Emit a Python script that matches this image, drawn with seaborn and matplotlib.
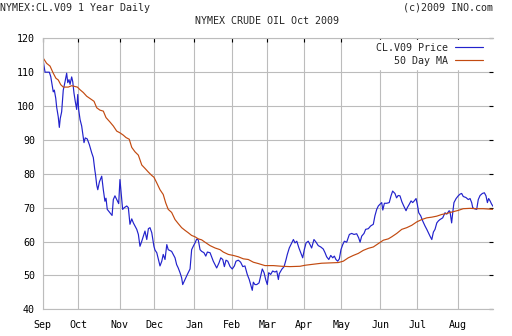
import matplotlib
matplotlib.use("Agg")
import matplotlib.pyplot as plt
import seaborn as sns
import pandas as pd

# ---- data (x = trading-day index since Sep 2008) ----
price_day = [0.0, 1.3, 3.7, 4.5, 5.4, 5.9, 6.5, 7.3, 7.8, 8.7, 9.3, 9.8, 10.6, 11.5, 12.5, 13.4, 14.0, 14.7,
             15.3, 16.2, 16.8, 17.5, 18.2, 19.0, 19.6, 20.1, 20.9, 21.8, 23.1, 23.8, 24.9, 26.1, 27.4, 28.3,
             29.1, 29.6, 30.2, 30.8, 31.7, 33.0, 33.9, 34.8, 35.4, 36.1, 37.6, 38.8, 39.5, 40.4, 41.4, 42.5,
             43.2, 43.8, 44.7, 45.6, 47.0, 47.9, 48.8, 49.8, 50.7, 52.6, 53.5, 54.4, 55.4, 56.3, 57.2, 58.2,
             59.1, 60.0, 61.0, 62.2, 62.8, 63.8, 64.7, 65.6, 66.6, 67.4, 68.4, 69.4, 70.2, 72.1, 74.0, 74.9,
             75.8, 76.8, 77.7, 78.3, 79.6, 80.9, 82.4, 83.3, 84.2, 85.2, 86.1, 87.0, 88.0, 88.9, 90.2, 91.2,
             92.1, 93.6, 95.4, 97.3, 98.6, 99.6, 100.7, 101.6, 102.5, 103.5, 104.8, 106.0, 107.2, 108.1, 109.4,
             110.7, 111.9, 113.1, 114.4, 115.5, 116.3, 117.2, 117.8, 118.7, 119.7, 121.0, 121.9, 122.8, 123.8,
             124.7, 125.6, 126.4, 127.5, 128.6, 129.9, 130.9, 131.8, 132.3, 133.7, 135.0, 136.1, 136.8, 137.9,
             139.3, 140.2, 141.1, 142.1, 143.3, 144.3, 145.4, 146.3, 147.3, 148.5, 149.5, 150.4, 151.7, 152.9,
             154.1, 155.5, 156.9, 157.9, 158.8, 160.0, 161.1, 162.2, 163.1, 164.0, 165.0, 165.9, 166.8, 167.8,
             168.7, 170.0, 171.5, 172.8, 174.1, 175.6, 176.7, 177.5, 178.4, 179.7, 180.6, 182.1, 183.4, 184.9,
             185.8, 186.8, 187.7, 188.6, 189.6, 190.2, 191.1, 192.4, 193.8, 194.8, 195.7, 197.0, 197.9, 198.8,
             199.8, 200.9, 202.1, 203.2, 203.9, 205.0, 206.0, 206.9, 207.8, 208.8, 209.5, 210.3, 211.4, 212.5,
             213.8, 214.8, 215.7, 216.6, 217.6, 218.5, 219.4, 220.4, 221.3, 222.2, 223.7, 225.0, 226.0, 227.3,
             227.8, 228.7, 229.3, 230.0, 231.2, 232.4, 233.4, 234.3, 235.2, 236.7, 238.0, 239.0, 239.9, 240.5,
             241.4, 242.7, 243.6, 244.6, 245.9, 247.0, 247.9, 248.7, 249.4, 250.2, 251.1, 252.0]
price_val = [114.3, 110.0, 110.0, 108.7, 105.7, 104.2, 104.7, 102.3, 99.7, 96.8, 93.7, 96.3, 98.3, 104.7, 107.2,
             109.7, 106.9, 107.8, 106.4, 108.6, 107.2, 103.8, 101.4, 99.0, 103.4, 99.0, 96.0, 94.1, 89.2, 90.6,
             90.3, 88.6, 86.2, 84.8, 81.3, 79.5, 76.7, 75.3, 77.6, 79.3, 75.3, 71.9, 72.8, 69.5, 68.5, 67.7,
             72.4, 73.5, 72.4, 71.2, 78.3, 74.9, 69.5, 70.0, 70.5, 70.0, 65.1, 66.7, 65.5, 63.6, 62.1, 58.6,
             60.1, 61.6, 63.1, 60.6, 63.8, 64.1, 62.6, 58.6, 57.5, 56.7, 54.7, 52.8, 54.2, 56.2, 54.7, 59.1,
             57.6, 57.1, 55.2, 53.2, 52.2, 50.8, 49.3, 47.3, 48.8, 50.3, 51.9, 57.6, 58.6, 59.6, 60.7, 60.5,
             57.6, 57.1, 56.7, 55.7, 56.9, 56.7, 54.2, 52.2, 53.7, 55.2, 54.7, 52.6, 54.5, 54.2, 52.6, 51.9,
             52.8, 54.2, 54.5, 53.9, 52.6, 52.8, 50.3, 48.8, 47.3, 45.6, 48.0, 47.3, 47.3, 47.8, 49.8, 51.9,
             50.8, 48.8, 47.3, 50.8, 50.3, 51.3, 51.0, 51.3, 48.8, 50.5, 51.8, 52.6, 54.7, 56.2, 58.1, 59.6,
             60.6, 59.6, 60.1, 58.1, 56.7, 55.2, 57.6, 59.6, 60.1, 59.1, 58.1, 60.6, 59.8, 58.8, 58.4, 57.8,
             56.7, 55.5, 54.7, 55.9, 55.2, 55.7, 54.7, 54.2, 54.9, 57.6, 59.1, 60.1, 59.8, 62.1, 62.4, 62.1,
             62.3, 61.1, 59.8, 61.6, 62.4, 63.6, 63.8, 64.6, 65.1, 67.6, 69.5, 70.5, 71.0, 71.5, 69.3, 71.3,
             71.3, 71.5, 73.5, 74.9, 74.2, 72.9, 73.6, 73.5, 71.7, 70.3, 69.1, 70.0, 71.0, 72.0, 71.5, 72.0,
             72.7, 71.0, 68.5, 67.6, 66.1, 64.6, 63.6, 62.6, 61.6, 60.6, 62.8, 63.6, 65.5, 66.1, 66.5, 67.0,
             68.5, 68.1, 69.1, 68.8, 65.5, 68.5, 71.5, 72.7, 73.5, 74.0, 74.2, 73.3, 73.0, 72.4, 72.7, 71.5,
             70.0, 69.7, 69.5, 72.4, 73.6, 74.2, 74.4, 73.5, 71.5, 72.7, 72.0, 71.0, 70.3]

ma_day = [0.0, 2.2, 4.1, 5.9, 7.4, 8.7, 10.1, 11.5, 14.3, 16.2, 19.4, 20.9, 22.7, 24.6, 26.8, 28.7, 30.2, 32.0,
          33.9, 35.4, 37.6, 39.5, 41.4, 43.2, 45.1, 46.6, 48.4, 49.8, 51.6, 53.5, 55.4, 57.2, 59.1, 61.0, 62.2,
          63.8, 65.6, 67.4, 68.8, 70.2, 72.1, 74.0, 75.8, 77.7, 79.6, 81.4, 83.3, 85.2, 87.0, 88.9, 90.8, 93.6,
          96.4, 99.2, 101.0, 103.8, 106.6, 109.4, 112.2, 115.0, 117.8, 120.6, 124.3, 129.0, 133.7, 138.3, 143.9,
          146.7, 151.3, 156.0, 160.7, 165.3, 168.1, 170.9, 173.7, 176.5, 179.3, 182.1, 184.9, 187.7, 190.5,
          193.3, 195.2, 198.0, 200.8, 203.6, 206.4, 209.2, 212.0, 214.8, 217.6, 220.4, 223.2, 226.0, 228.7,
          232.4, 235.2, 239.0, 242.7, 246.4, 252.0]
ma_val = [114.4, 112.6, 111.8, 109.7, 108.2, 107.7, 106.3, 105.6, 105.6, 106.0, 105.6, 104.8, 104.0, 102.9,
          102.1, 101.4, 99.5, 98.8, 98.5, 96.6, 95.3, 94.1, 92.6, 92.1, 91.4, 90.7, 90.2, 87.8, 86.5, 85.5,
          82.6, 81.6, 80.5, 79.5, 79.0, 77.3, 75.3, 73.9, 71.4, 69.5, 68.6, 66.5, 65.3, 64.1, 63.3, 62.6, 61.8,
          61.4, 60.8, 60.5, 59.8, 58.8, 58.1, 57.6, 56.9, 56.2, 55.9, 55.5, 54.9, 54.7, 53.9, 53.5, 52.9, 52.9,
          52.7, 52.6, 52.7, 53.0, 53.3, 53.6, 53.7, 53.8, 54.2, 55.2, 55.9, 56.5, 57.4, 58.0, 58.4, 59.4, 60.4,
          60.8, 61.4, 62.4, 63.6, 64.1, 64.8, 65.8, 66.5, 67.0, 67.2, 67.5, 68.0, 68.3, 68.7, 69.2, 69.7, 69.8,
          69.7, 69.7, 69.5]

month_labels = ["Sep", "Oct", "Nov", "Dec", "Jan", "Feb", "Mar", "Apr", "May", "Jun", "Jul", "Aug"]
month_pos = [0, 20, 43, 62.4, 84.8, 106, 125.6, 146.3, 167, 188.8, 209.5, 232.4]
y_ticks = [40, 50, 60, 70, 80, 90, 100, 110, 120]

series_price = "CL.V09 Price"
series_ma = "50 Day MA"

# ---- style ----
sns.set_style("white")
plt.rcParams['font.family'] = ['DejaVu Sans Mono', 'DejaVu Sans']
FS = 7.2
GRID = "#bcbcbc"

fig = plt.figure(figsize=(5.12, 3.36), dpi=100)
ax = fig.add_axes([42.7 / 512, 1 - 309.3 / 336, (493.3 - 42.7) / 512, (309.3 - 38.3) / 336])

df_p = pd.DataFrame({"day": price_day, "value": price_val, "series": series_price})
df_m = pd.DataFrame({"day": ma_day, "value": ma_val, "series": series_ma})
df = pd.concat([df_p, df_m], ignore_index=True)

sns.lineplot(data=df, x="day", y="value", hue="series",
             palette={series_price: "#2222cc", series_ma: "#c24a10"},
             estimator=None, sort=False, lw=0.85, ax=ax)

ax.set_xlim(0, 252)
ax.set_ylim(40, 120)
ax.set_xticks(month_pos)
ax.set_xticklabels(month_labels)
ax.set_yticks(y_ticks)
ax.set_xlabel("")
ax.set_ylabel("")

ax.grid(True, color=GRID, lw=0.8)
ax.set_axisbelow(True)
for side in ["left", "top", "bottom"]:
    ax.spines[side].set_visible(True)
    ax.spines[side].set_color(GRID)
    ax.spines[side].set_linewidth(0.8)
ax.spines["right"].set_visible(False)

ax.tick_params(axis="both", which="both", direction="in", length=3.2, width=0.8,
               color="black", top=True, right=True, labeltop=False, labelright=False,
               labelsize=FS, labelcolor="black")
ax.tick_params(axis="x", pad=8)
ax.tick_params(axis="y", pad=5.5)

leg = ax.legend(loc="upper right", bbox_to_anchor=(0.984, 0.995), borderaxespad=0,
                frameon=True, fancybox=False, framealpha=1, edgecolor="white",
                facecolor="white", fontsize=FS, markerfirst=False, handlelength=2.85,
                handletextpad=0.7, labelspacing=0.3, borderpad=0.3)
for line in leg.get_lines():
    line.set_linewidth(0.85)

fig.text(0.0, 1 - 8 / 336, "NYMEX:CL.V09 1 Year Daily", fontsize=FS, ha="left", va="center")
fig.text(493 / 512, 1 - 8 / 336, "(c)2009 INO.com", fontsize=FS, ha="right", va="center")
fig.text(267 / 512, 1 - 21.5 / 336, "NYMEX CRUDE OIL Oct 2009", fontsize=FS, ha="center", va="center")

fig.savefig("out.png", dpi=100)
